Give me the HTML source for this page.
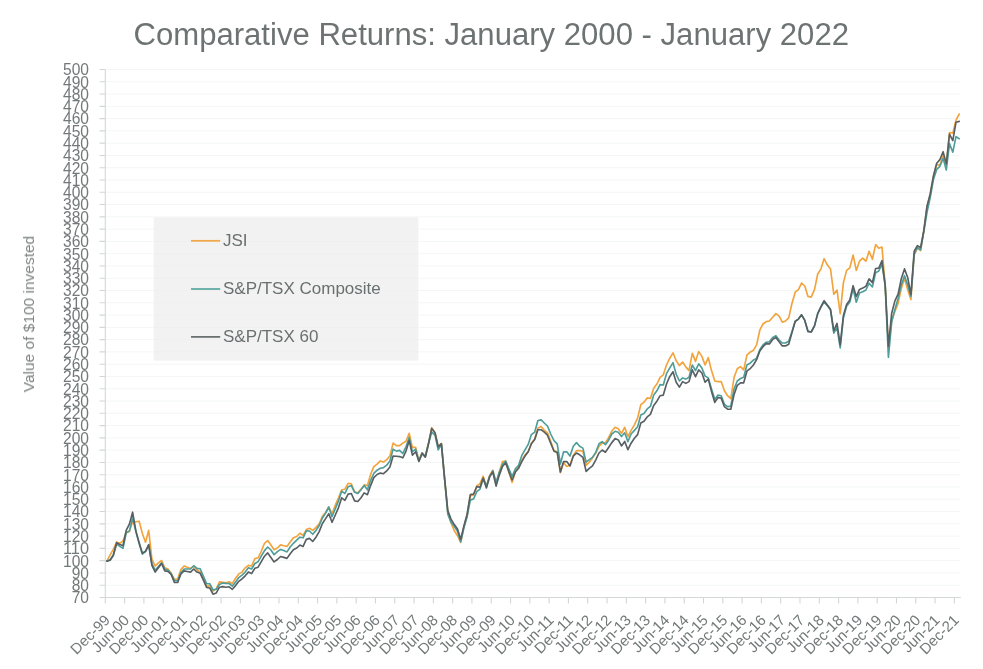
<!DOCTYPE html>
<html lang="en"><head><meta charset="utf-8"><title>Comparative Returns: January 2000 - January 2022</title>
<style>
html,body{margin:0;padding:0;background:#fff}
body{width:983px;height:669px;overflow:hidden}
svg{display:block}
text{font-family:"Liberation Sans",sans-serif}
.title{font-size:31px;fill:#6d7373}
.yl{font-size:15.8px;fill:#737979}
.xl{font-size:15px;fill:#737979;text-anchor:end}
.yt{font-size:13.8px;fill:#7d8383}
.lg{font-size:17px;fill:#6a7070}
.s{fill:none;stroke-width:1.65;stroke-linejoin:round;stroke-linecap:round}
</style></head><body>
<svg width="983" height="669" viewBox="0 0 983 669">
<rect width="983" height="669" fill="#fff"/>
<g opacity="0.999">
<text class="title" x="133.5" y="44.5" textLength="715.5" lengthAdjust="spacingAndGlyphs">Comparative Returns: January 2000 - January 2022</text>
<path d="M105.3,69.50H960.8M105.3,81.78H960.8M105.3,94.06H960.8M105.3,106.34H960.8M105.3,118.62H960.8M105.3,130.90H960.8M105.3,143.17H960.8M105.3,155.45H960.8M105.3,167.73H960.8M105.3,180.01H960.8M105.3,192.29H960.8M105.3,204.57H960.8M105.3,216.85H960.8M105.3,229.13H960.8M105.3,241.41H960.8M105.3,253.69H960.8M105.3,265.97H960.8M105.3,278.24H960.8M105.3,290.52H960.8M105.3,302.80H960.8M105.3,315.08H960.8M105.3,327.36H960.8M105.3,339.64H960.8M105.3,351.92H960.8M105.3,364.20H960.8M105.3,376.48H960.8M105.3,388.76H960.8M105.3,401.03H960.8M105.3,413.31H960.8M105.3,425.59H960.8M105.3,437.87H960.8M105.3,450.15H960.8M105.3,462.43H960.8M105.3,474.71H960.8M105.3,486.99H960.8M105.3,499.27H960.8M105.3,511.55H960.8M105.3,523.83H960.8M105.3,536.10H960.8M105.3,548.38H960.8M105.3,560.66H960.8M105.3,572.94H960.8M105.3,585.22H960.8" stroke="#f4f6f6" stroke-width="1" fill="none"/>
<rect x="153.7" y="217.3" width="264.6" height="143.3" fill="#ededed" fill-opacity="0.73"/>
<path d="M105.3,69.5V597.5M105.3,597.5H960.8M99.5,69.50H105.3M99.5,81.78H105.3M99.5,94.06H105.3M99.5,106.34H105.3M99.5,118.62H105.3M99.5,130.90H105.3M99.5,143.17H105.3M99.5,155.45H105.3M99.5,167.73H105.3M99.5,180.01H105.3M99.5,192.29H105.3M99.5,204.57H105.3M99.5,216.85H105.3M99.5,229.13H105.3M99.5,241.41H105.3M99.5,253.69H105.3M99.5,265.97H105.3M99.5,278.24H105.3M99.5,290.52H105.3M99.5,302.80H105.3M99.5,315.08H105.3M99.5,327.36H105.3M99.5,339.64H105.3M99.5,351.92H105.3M99.5,364.20H105.3M99.5,376.48H105.3M99.5,388.76H105.3M99.5,401.03H105.3M99.5,413.31H105.3M99.5,425.59H105.3M99.5,437.87H105.3M99.5,450.15H105.3M99.5,462.43H105.3M99.5,474.71H105.3M99.5,486.99H105.3M99.5,499.27H105.3M99.5,511.55H105.3M99.5,523.83H105.3M99.5,536.10H105.3M99.5,548.38H105.3M99.5,560.66H105.3M99.5,572.94H105.3M99.5,585.22H105.3M99.5,597.50H105.3M105.30,597.5V603.5M124.60,597.5V603.5M143.89,597.5V603.5M163.19,597.5V603.5M182.49,597.5V603.5M201.78,597.5V603.5M221.08,597.5V603.5M240.38,597.5V603.5M259.68,597.5V603.5M278.97,597.5V603.5M298.27,597.5V603.5M317.57,597.5V603.5M336.86,597.5V603.5M356.16,597.5V603.5M375.46,597.5V603.5M394.75,597.5V603.5M414.05,597.5V603.5M433.35,597.5V603.5M452.65,597.5V603.5M471.94,597.5V603.5M491.24,597.5V603.5M510.54,597.5V603.5M529.83,597.5V603.5M549.13,597.5V603.5M568.43,597.5V603.5M587.72,597.5V603.5M607.02,597.5V603.5M626.32,597.5V603.5M645.62,597.5V603.5M664.91,597.5V603.5M684.21,597.5V603.5M703.51,597.5V603.5M722.80,597.5V603.5M742.10,597.5V603.5M761.40,597.5V603.5M780.69,597.5V603.5M799.99,597.5V603.5M819.29,597.5V603.5M838.59,597.5V603.5M857.88,597.5V603.5M877.18,597.5V603.5M896.48,597.5V603.5M915.77,597.5V603.5M935.07,597.5V603.5M954.37,597.5V603.5" stroke="#d4d7d7" stroke-width="1.1" fill="none"/>
<text class="yl" x="63.0" y="75.3" textLength="26.0" lengthAdjust="spacingAndGlyphs">500</text>
<text class="yl" x="63.0" y="87.6" textLength="26.0" lengthAdjust="spacingAndGlyphs">490</text>
<text class="yl" x="63.0" y="99.9" textLength="26.0" lengthAdjust="spacingAndGlyphs">480</text>
<text class="yl" x="63.0" y="112.1" textLength="26.0" lengthAdjust="spacingAndGlyphs">470</text>
<text class="yl" x="63.0" y="124.4" textLength="26.0" lengthAdjust="spacingAndGlyphs">460</text>
<text class="yl" x="63.0" y="136.7" textLength="26.0" lengthAdjust="spacingAndGlyphs">450</text>
<text class="yl" x="63.0" y="149.0" textLength="26.0" lengthAdjust="spacingAndGlyphs">440</text>
<text class="yl" x="63.0" y="161.3" textLength="26.0" lengthAdjust="spacingAndGlyphs">430</text>
<text class="yl" x="63.0" y="173.5" textLength="26.0" lengthAdjust="spacingAndGlyphs">420</text>
<text class="yl" x="63.0" y="185.8" textLength="26.0" lengthAdjust="spacingAndGlyphs">410</text>
<text class="yl" x="63.0" y="198.1" textLength="26.0" lengthAdjust="spacingAndGlyphs">400</text>
<text class="yl" x="63.0" y="210.4" textLength="26.0" lengthAdjust="spacingAndGlyphs">390</text>
<text class="yl" x="63.0" y="222.6" textLength="26.0" lengthAdjust="spacingAndGlyphs">380</text>
<text class="yl" x="63.0" y="234.9" textLength="26.0" lengthAdjust="spacingAndGlyphs">370</text>
<text class="yl" x="63.0" y="247.2" textLength="26.0" lengthAdjust="spacingAndGlyphs">360</text>
<text class="yl" x="63.0" y="259.5" textLength="26.0" lengthAdjust="spacingAndGlyphs">350</text>
<text class="yl" x="63.0" y="271.8" textLength="26.0" lengthAdjust="spacingAndGlyphs">340</text>
<text class="yl" x="63.0" y="284.0" textLength="26.0" lengthAdjust="spacingAndGlyphs">330</text>
<text class="yl" x="63.0" y="296.3" textLength="26.0" lengthAdjust="spacingAndGlyphs">320</text>
<text class="yl" x="63.0" y="308.6" textLength="26.0" lengthAdjust="spacingAndGlyphs">310</text>
<text class="yl" x="63.0" y="320.9" textLength="26.0" lengthAdjust="spacingAndGlyphs">300</text>
<text class="yl" x="63.0" y="333.2" textLength="26.0" lengthAdjust="spacingAndGlyphs">290</text>
<text class="yl" x="63.0" y="345.4" textLength="26.0" lengthAdjust="spacingAndGlyphs">280</text>
<text class="yl" x="63.0" y="357.7" textLength="26.0" lengthAdjust="spacingAndGlyphs">270</text>
<text class="yl" x="63.0" y="370.0" textLength="26.0" lengthAdjust="spacingAndGlyphs">260</text>
<text class="yl" x="63.0" y="382.3" textLength="26.0" lengthAdjust="spacingAndGlyphs">250</text>
<text class="yl" x="63.0" y="394.6" textLength="26.0" lengthAdjust="spacingAndGlyphs">240</text>
<text class="yl" x="63.0" y="406.8" textLength="26.0" lengthAdjust="spacingAndGlyphs">230</text>
<text class="yl" x="63.0" y="419.1" textLength="26.0" lengthAdjust="spacingAndGlyphs">220</text>
<text class="yl" x="63.0" y="431.4" textLength="26.0" lengthAdjust="spacingAndGlyphs">210</text>
<text class="yl" x="63.0" y="443.7" textLength="26.0" lengthAdjust="spacingAndGlyphs">200</text>
<text class="yl" x="63.0" y="456.0" textLength="26.0" lengthAdjust="spacingAndGlyphs">190</text>
<text class="yl" x="63.0" y="468.2" textLength="26.0" lengthAdjust="spacingAndGlyphs">180</text>
<text class="yl" x="63.0" y="480.5" textLength="26.0" lengthAdjust="spacingAndGlyphs">170</text>
<text class="yl" x="63.0" y="492.8" textLength="26.0" lengthAdjust="spacingAndGlyphs">160</text>
<text class="yl" x="63.0" y="505.1" textLength="26.0" lengthAdjust="spacingAndGlyphs">150</text>
<text class="yl" x="63.0" y="517.3" textLength="26.0" lengthAdjust="spacingAndGlyphs">140</text>
<text class="yl" x="63.0" y="529.6" textLength="26.0" lengthAdjust="spacingAndGlyphs">130</text>
<text class="yl" x="63.0" y="541.9" textLength="26.0" lengthAdjust="spacingAndGlyphs">120</text>
<text class="yl" x="63.0" y="554.2" textLength="26.0" lengthAdjust="spacingAndGlyphs">110</text>
<text class="yl" x="63.0" y="566.5" textLength="26.0" lengthAdjust="spacingAndGlyphs">100</text>
<text class="yl" x="71.7" y="578.7" textLength="17.3" lengthAdjust="spacingAndGlyphs">90</text>
<text class="yl" x="71.7" y="591.0" textLength="17.3" lengthAdjust="spacingAndGlyphs">80</text>
<text class="yl" x="71.7" y="603.3" textLength="17.3" lengthAdjust="spacingAndGlyphs">70</text>
<text class="xl" transform="translate(110.8,621) rotate(-45)">Dec-99</text>
<text class="xl" transform="translate(130.1,621) rotate(-45)">Jun-00</text>
<text class="xl" transform="translate(149.4,621) rotate(-45)">Dec-00</text>
<text class="xl" transform="translate(168.7,621) rotate(-45)">Jun-01</text>
<text class="xl" transform="translate(188.0,621) rotate(-45)">Dec-01</text>
<text class="xl" transform="translate(207.3,621) rotate(-45)">Jun-02</text>
<text class="xl" transform="translate(226.6,621) rotate(-45)">Dec-02</text>
<text class="xl" transform="translate(245.9,621) rotate(-45)">Jun-03</text>
<text class="xl" transform="translate(265.2,621) rotate(-45)">Dec-03</text>
<text class="xl" transform="translate(284.5,621) rotate(-45)">Jun-04</text>
<text class="xl" transform="translate(303.8,621) rotate(-45)">Dec-04</text>
<text class="xl" transform="translate(323.1,621) rotate(-45)">Jun-05</text>
<text class="xl" transform="translate(342.4,621) rotate(-45)">Dec-05</text>
<text class="xl" transform="translate(361.7,621) rotate(-45)">Jun-06</text>
<text class="xl" transform="translate(381.0,621) rotate(-45)">Dec-06</text>
<text class="xl" transform="translate(400.3,621) rotate(-45)">Jun-07</text>
<text class="xl" transform="translate(419.6,621) rotate(-45)">Dec-07</text>
<text class="xl" transform="translate(438.8,621) rotate(-45)">Jun-08</text>
<text class="xl" transform="translate(458.1,621) rotate(-45)">Dec-08</text>
<text class="xl" transform="translate(477.4,621) rotate(-45)">Jun-09</text>
<text class="xl" transform="translate(496.7,621) rotate(-45)">Dec-09</text>
<text class="xl" transform="translate(516.0,621) rotate(-45)">Jun-10</text>
<text class="xl" transform="translate(535.3,621) rotate(-45)">Dec-10</text>
<text class="xl" transform="translate(554.6,621) rotate(-45)">Jun-11</text>
<text class="xl" transform="translate(573.9,621) rotate(-45)">Dec-11</text>
<text class="xl" transform="translate(593.2,621) rotate(-45)">Jun-12</text>
<text class="xl" transform="translate(612.5,621) rotate(-45)">Dec-12</text>
<text class="xl" transform="translate(631.8,621) rotate(-45)">Jun-13</text>
<text class="xl" transform="translate(651.1,621) rotate(-45)">Dec-13</text>
<text class="xl" transform="translate(670.4,621) rotate(-45)">Jun-14</text>
<text class="xl" transform="translate(689.7,621) rotate(-45)">Dec-14</text>
<text class="xl" transform="translate(709.0,621) rotate(-45)">Jun-15</text>
<text class="xl" transform="translate(728.3,621) rotate(-45)">Dec-15</text>
<text class="xl" transform="translate(747.6,621) rotate(-45)">Jun-16</text>
<text class="xl" transform="translate(766.9,621) rotate(-45)">Dec-16</text>
<text class="xl" transform="translate(786.2,621) rotate(-45)">Jun-17</text>
<text class="xl" transform="translate(805.5,621) rotate(-45)">Dec-17</text>
<text class="xl" transform="translate(824.8,621) rotate(-45)">Jun-18</text>
<text class="xl" transform="translate(844.1,621) rotate(-45)">Dec-18</text>
<text class="xl" transform="translate(863.4,621) rotate(-45)">Jun-19</text>
<text class="xl" transform="translate(882.7,621) rotate(-45)">Dec-19</text>
<text class="xl" transform="translate(902.0,621) rotate(-45)">Jun-20</text>
<text class="xl" transform="translate(921.3,621) rotate(-45)">Dec-20</text>
<text class="xl" transform="translate(940.6,621) rotate(-45)">Jun-21</text>
<text class="xl" transform="translate(959.9,621) rotate(-45)">Dec-21</text>
<text class="yt" transform="translate(34,392.3) rotate(-90)" textLength="156.5" lengthAdjust="spacingAndGlyphs">Value of $100 invested</text>
<path class="s" stroke="#f2a33c" d="M106.9,561.1 L110.1,554.9 L113.3,549.4 L116.6,542.1 L119.8,543.3 L123.0,540.8 L126.2,532.8 L129.4,531.5 L132.6,521.7 L135.9,521.7 L139.1,521.2 L142.3,533.2 L145.5,542.2 L148.7,530.3 L151.9,559.2 L155.2,566.0 L158.4,562.9 L161.6,560.5 L164.8,567.8 L168.0,569.0 L171.2,573.3 L174.4,579.5 L177.7,578.8 L180.9,569.6 L184.1,566.0 L187.3,567.2 L190.5,568.4 L193.7,566.6 L197.0,569.6 L200.2,572.1 L203.4,578.8 L206.6,586.2 L209.8,585.6 L213.0,591.1 L216.3,588.6 L219.5,581.9 L222.7,582.3 L225.9,582.8 L229.1,581.7 L232.3,583.7 L235.6,578.2 L238.8,573.9 L242.0,572.1 L245.2,567.8 L248.4,565.4 L251.6,566.0 L254.9,558.6 L258.1,557.8 L261.3,551.3 L264.5,543.3 L267.7,540.6 L270.9,545.1 L274.1,549.8 L277.4,548.0 L280.6,544.9 L283.8,545.7 L287.0,546.4 L290.2,542.1 L293.4,537.8 L296.7,536.5 L299.9,533.2 L303.1,535.3 L306.3,529.6 L309.5,528.3 L312.7,530.4 L316.0,527.4 L319.2,523.7 L322.4,516.2 L325.6,512.5 L328.8,507.0 L332.0,513.7 L335.3,505.2 L338.5,497.8 L341.7,489.8 L344.9,489.2 L348.1,483.3 L351.3,483.7 L354.6,491.7 L357.8,492.9 L361.0,489.2 L364.2,484.9 L367.4,485.6 L370.6,474.5 L373.8,466.6 L377.1,464.1 L380.3,460.9 L383.5,462.1 L386.7,459.6 L389.9,456.0 L393.1,443.1 L396.4,445.6 L399.6,445.6 L402.8,443.1 L406.0,441.3 L409.2,433.3 L412.4,447.4 L415.7,447.4 L418.9,460.9 L422.1,452.9 L425.3,456.6 L428.5,443.1 L431.7,427.8 L435.0,432.7 L438.2,446.8 L441.4,443.7 L444.6,478.6 L447.8,511.8 L451.0,522.8 L454.3,530.8 L457.5,535.7 L460.7,542.4 L463.9,527.1 L467.1,515.5 L470.3,495.8 L473.6,495.2 L476.8,486.0 L480.0,483.6 L483.2,476.2 L486.4,486.7 L489.6,475.7 L492.8,470.2 L496.1,483.6 L499.3,472.0 L502.5,461.6 L505.7,461.0 L508.9,472.0 L512.1,482.4 L515.4,471.4 L518.6,466.5 L521.8,460.4 L525.0,454.8 L528.2,451.8 L531.4,443.2 L534.7,438.9 L537.9,427.9 L541.1,426.6 L544.3,430.3 L547.5,432.8 L550.7,441.4 L554.0,450.6 L557.2,451.8 L560.4,472.6 L563.6,462.8 L566.8,466.5 L570.0,465.3 L573.3,455.4 L576.5,450.6 L579.7,450.6 L582.9,451.2 L586.1,465.3 L589.3,462.2 L592.5,457.9 L595.8,453.0 L599.0,446.3 L602.2,443.2 L605.4,442.6 L608.6,437.7 L611.8,431.0 L615.1,427.3 L618.3,428.8 L621.5,433.4 L624.7,427.3 L627.9,436.5 L631.1,430.4 L634.4,424.8 L637.6,418.1 L640.8,404.6 L644.0,402.2 L647.2,397.9 L650.4,398.5 L653.7,388.3 L656.9,384.0 L660.1,377.3 L663.3,374.8 L666.5,365.0 L669.7,358.3 L673.0,352.8 L676.2,360.7 L679.4,365.6 L682.6,362.0 L685.8,366.9 L689.0,370.6 L692.3,353.4 L695.5,361.4 L698.7,351.6 L701.9,356.4 L705.1,365.0 L708.3,357.7 L711.5,370.6 L714.8,381.0 L718.0,381.6 L721.2,381.6 L724.4,390.8 L727.6,395.7 L730.8,398.7 L734.1,377.3 L737.3,368.7 L740.5,366.6 L743.7,369.9 L746.9,355.2 L750.1,352.2 L753.4,350.3 L756.6,344.9 L759.8,330.2 L763.0,324.0 L766.2,321.6 L769.4,321.0 L772.7,317.3 L775.9,313.6 L779.1,316.1 L782.3,322.2 L785.5,321.0 L788.7,317.9 L792.0,303.2 L795.2,292.2 L798.4,289.7 L801.6,283.0 L804.8,286.0 L808.0,296.4 L811.2,297.1 L814.5,289.7 L817.7,274.0 L820.9,269.1 L824.1,258.7 L827.3,264.8 L830.5,268.9 L833.8,294.3 L837.0,290.0 L840.2,313.6 L843.4,282.6 L846.6,270.4 L849.8,267.9 L853.1,255.0 L856.3,270.4 L859.5,261.2 L862.7,258.1 L865.9,261.2 L869.1,251.3 L872.4,259.3 L875.6,244.6 L878.8,248.3 L882.0,247.1 L885.2,285.6 L888.4,347.5 L891.7,320.6 L894.9,311.4 L898.1,303.4 L901.3,288.6 L904.5,278.1 L907.7,289.8 L910.9,299.6 L914.2,254.8 L917.4,248.1 L920.6,250.6 L923.8,230.3 L927.0,206.8 L930.2,194.6 L933.5,176.2 L936.7,164.5 L939.9,165.1 L943.1,155.9 L946.3,164.5 L949.5,132.5 L952.8,133.3 L956.0,120.2 L959.2,114.0"/>
<path class="s" stroke="#4f9d9a" d="M106.9,561.1 L110.1,559.8 L113.3,554.9 L116.6,543.9 L119.8,546.4 L123.0,548.4 L126.2,532.8 L129.4,531.1 L132.6,518.0 L135.9,531.5 L139.1,543.5 L142.3,554.1 L145.5,551.6 L148.7,545.1 L151.9,563.5 L155.2,570.3 L158.4,566.6 L161.6,562.9 L164.8,569.0 L168.0,570.3 L171.2,573.9 L174.4,580.7 L177.7,580.7 L180.9,572.7 L184.1,569.0 L187.3,569.0 L190.5,569.0 L193.7,565.7 L197.0,568.4 L200.2,568.8 L203.4,576.4 L206.6,583.7 L209.8,583.7 L213.0,589.9 L216.3,589.3 L219.5,584.4 L222.7,583.1 L225.9,583.4 L229.1,583.5 L232.3,586.2 L235.6,581.9 L238.8,577.6 L242.0,575.2 L245.2,572.1 L248.4,567.8 L251.6,569.0 L254.9,563.5 L258.1,561.7 L261.3,556.2 L264.5,550.6 L267.7,547.0 L270.9,550.0 L274.1,554.7 L277.4,551.6 L280.6,549.4 L283.8,550.6 L287.0,551.9 L290.2,547.0 L293.4,543.3 L296.7,540.2 L299.9,537.2 L303.1,537.8 L306.3,530.8 L309.5,531.0 L312.7,534.3 L316.0,530.4 L319.2,525.5 L322.4,518.0 L325.6,513.1 L328.8,507.0 L332.0,516.8 L335.3,508.8 L338.5,500.9 L341.7,491.1 L344.9,493.5 L348.1,486.8 L351.3,485.6 L354.6,492.3 L357.8,493.5 L361.0,489.8 L364.2,485.6 L367.4,489.8 L370.6,480.6 L373.8,473.3 L377.1,470.2 L380.3,468.2 L383.5,467.6 L386.7,465.2 L389.9,460.9 L393.1,449.2 L396.4,451.1 L399.6,450.4 L402.8,453.5 L406.0,446.8 L409.2,437.6 L412.4,451.7 L415.7,449.2 L418.9,460.9 L422.1,452.9 L425.3,456.6 L428.5,443.7 L431.7,432.1 L435.0,435.1 L438.2,449.8 L441.4,444.3 L444.6,478.6 L447.8,514.2 L451.0,522.2 L454.3,526.5 L457.5,531.4 L460.7,541.8 L463.9,527.7 L467.1,516.7 L470.3,500.1 L473.6,498.9 L476.8,491.6 L480.0,489.1 L483.2,478.7 L486.4,486.1 L489.6,476.3 L492.8,470.8 L496.1,482.4 L499.3,472.0 L502.5,464.6 L505.7,461.0 L508.9,468.9 L512.1,476.3 L515.4,468.9 L518.6,465.3 L521.8,455.4 L525.0,449.9 L528.2,444.4 L531.4,434.6 L534.7,432.2 L537.9,420.5 L541.1,419.9 L544.3,423.0 L547.5,426.0 L550.7,434.0 L554.0,440.7 L557.2,443.8 L560.4,464.0 L563.6,451.8 L566.8,451.8 L570.0,456.1 L573.3,446.3 L576.5,442.6 L579.7,446.3 L582.9,448.1 L586.1,462.2 L589.3,459.7 L592.5,457.3 L595.8,452.4 L599.0,443.8 L602.2,441.6 L605.4,444.7 L608.6,440.2 L611.8,434.0 L615.1,431.3 L618.3,432.2 L621.5,436.5 L624.7,432.8 L627.9,441.6 L631.1,434.0 L634.4,430.4 L637.6,426.7 L640.8,415.0 L644.0,413.4 L647.2,408.9 L650.4,406.4 L653.7,395.1 L656.9,390.8 L660.1,384.6 L663.3,385.0 L666.5,373.6 L669.7,368.1 L673.0,362.6 L676.2,374.2 L679.4,381.0 L682.6,377.9 L685.8,379.1 L689.0,377.3 L692.3,365.0 L695.5,370.6 L698.7,363.8 L701.9,368.1 L705.1,376.1 L708.3,377.9 L711.5,388.9 L714.8,399.4 L718.0,395.1 L721.2,395.7 L724.4,404.3 L727.6,406.7 L730.8,406.1 L734.1,388.9 L737.3,381.0 L740.5,378.5 L743.7,377.3 L746.9,365.0 L750.1,363.2 L753.4,360.1 L756.6,358.4 L759.8,349.8 L763.0,344.9 L766.2,342.2 L769.4,341.8 L772.7,337.5 L775.9,335.7 L779.1,340.0 L782.3,343.0 L785.5,343.0 L788.7,341.2 L792.0,331.4 L795.2,321.0 L798.4,319.1 L801.6,314.8 L804.8,320.4 L808.0,331.4 L811.2,332.0 L814.5,325.9 L817.7,313.6 L820.9,307.1 L824.1,302.0 L827.3,305.6 L830.5,309.9 L833.8,333.2 L837.0,327.7 L840.2,347.9 L843.4,317.9 L846.6,306.3 L849.8,302.0 L853.1,288.7 L856.3,302.2 L859.5,293.0 L862.7,291.8 L865.9,290.0 L869.1,283.2 L872.4,286.9 L875.6,272.8 L878.8,271.0 L882.0,264.2 L885.2,286.2 L888.4,357.3 L891.7,321.8 L894.9,309.5 L898.1,298.5 L901.3,284.9 L904.5,275.7 L907.7,284.9 L910.9,296.5 L914.2,254.2 L917.4,247.5 L920.6,249.9 L923.8,231.6 L927.0,212.3 L930.2,197.6 L933.5,179.2 L936.7,169.4 L939.9,166.3 L943.1,158.4 L946.3,170.0 L949.5,143.6 L952.8,152.2 L956.0,136.6 L959.2,138.7"/>
<path class="s" stroke="#585f63" d="M106.9,561.1 L110.1,560.2 L113.3,555.5 L116.6,542.7 L119.8,544.5 L123.0,545.7 L126.2,530.3 L129.4,524.1 L132.6,512.2 L135.9,531.1 L139.1,542.6 L142.3,553.1 L145.5,551.3 L148.7,544.5 L151.9,565.4 L155.2,572.1 L158.4,567.8 L161.6,563.5 L164.8,570.9 L168.0,571.5 L171.2,574.5 L174.4,582.5 L177.7,582.5 L180.9,573.9 L184.1,570.9 L187.3,571.5 L190.5,572.1 L193.7,569.0 L197.0,572.1 L200.2,573.3 L203.4,580.1 L206.6,587.4 L209.8,588.0 L213.0,594.2 L216.3,592.9 L219.5,587.2 L222.7,586.6 L225.9,587.2 L229.1,586.8 L232.3,589.3 L235.6,585.6 L238.8,581.3 L242.0,578.8 L245.2,575.8 L248.4,572.1 L251.6,573.6 L254.9,568.2 L258.1,567.2 L261.3,561.7 L264.5,556.2 L267.7,552.9 L270.9,557.4 L274.1,561.9 L277.4,559.5 L280.6,556.5 L283.8,557.4 L287.0,558.4 L290.2,553.7 L293.4,549.7 L296.7,548.0 L299.9,545.1 L303.1,546.4 L306.3,539.4 L309.5,538.4 L312.7,541.5 L316.0,537.2 L319.2,531.6 L322.4,523.5 L325.6,518.6 L328.8,513.7 L332.0,522.3 L335.3,515.0 L338.5,507.6 L341.7,497.8 L344.9,500.3 L348.1,494.1 L351.3,493.5 L354.6,500.9 L357.8,501.5 L361.0,497.8 L364.2,492.9 L367.4,494.7 L370.6,485.6 L373.8,477.6 L377.1,474.5 L380.3,473.1 L383.5,473.7 L386.7,470.9 L389.9,467.0 L393.1,456.0 L396.4,456.3 L399.6,456.6 L402.8,457.8 L406.0,451.1 L409.2,440.6 L412.4,455.1 L415.7,451.7 L418.9,461.5 L422.1,453.5 L425.3,457.2 L428.5,443.7 L431.7,428.4 L435.0,432.7 L438.2,446.8 L441.4,443.7 L444.6,478.6 L447.8,510.6 L451.0,519.1 L454.3,524.6 L457.5,528.9 L460.7,539.4 L463.9,525.9 L467.1,514.2 L470.3,494.6 L473.6,494.0 L476.8,486.6 L480.0,487.3 L483.2,478.1 L486.4,487.9 L489.6,476.9 L492.8,472.0 L496.1,486.1 L499.3,475.1 L502.5,466.5 L505.7,462.8 L508.9,472.0 L512.1,480.0 L515.4,472.0 L518.6,468.3 L521.8,461.6 L525.0,456.1 L528.2,451.8 L531.4,443.8 L534.7,439.5 L537.9,429.7 L541.1,429.7 L544.3,432.2 L547.5,435.2 L550.7,443.2 L554.0,451.2 L557.2,452.4 L560.4,472.0 L563.6,461.6 L566.8,461.6 L570.0,465.9 L573.3,456.1 L576.5,453.0 L579.7,454.8 L582.9,457.3 L586.1,471.4 L589.3,468.3 L592.5,465.9 L595.8,459.8 L599.0,453.0 L602.2,450.0 L605.4,452.2 L608.6,447.5 L611.8,442.6 L615.1,438.6 L618.3,439.9 L621.5,445.9 L624.7,441.4 L627.9,449.7 L631.1,443.2 L634.4,438.3 L637.6,434.6 L640.8,423.0 L644.0,421.2 L647.2,416.9 L650.4,414.4 L653.7,405.5 L656.9,401.2 L660.1,395.7 L663.3,395.1 L666.5,384.0 L669.7,376.7 L673.0,371.8 L676.2,382.2 L679.4,387.1 L682.6,381.6 L685.8,383.4 L689.0,381.6 L692.3,369.9 L695.5,376.7 L698.7,369.9 L701.9,373.0 L705.1,382.2 L708.3,379.1 L711.5,391.4 L714.8,402.4 L718.0,397.5 L721.2,398.1 L724.4,406.7 L727.6,409.2 L730.8,409.2 L734.1,394.4 L737.3,385.3 L740.5,382.8 L743.7,382.8 L746.9,371.2 L750.1,368.7 L753.4,365.0 L756.6,359.6 L759.8,351.0 L763.0,346.7 L766.2,343.6 L769.4,343.9 L772.7,339.4 L775.9,337.5 L779.1,341.8 L782.3,345.9 L785.5,345.9 L788.7,344.3 L792.0,332.6 L795.2,321.6 L798.4,319.1 L801.6,314.8 L804.8,320.4 L808.0,331.4 L811.2,332.0 L814.5,325.9 L817.7,313.6 L820.9,306.9 L824.1,300.7 L827.3,305.0 L830.5,309.3 L833.8,330.8 L837.0,323.4 L840.2,344.9 L843.4,315.4 L846.6,304.4 L849.8,300.1 L853.1,285.7 L856.3,296.7 L859.5,289.4 L862.7,288.1 L865.9,286.3 L869.1,278.9 L872.4,282.6 L875.6,268.5 L878.8,268.1 L882.0,260.6 L885.2,285.0 L888.4,346.3 L891.7,313.2 L894.9,300.9 L898.1,294.2 L901.3,278.7 L904.5,268.9 L907.7,277.5 L910.9,294.7 L914.2,251.2 L917.4,245.6 L920.6,247.5 L923.8,230.9 L927.0,206.2 L930.2,193.9 L933.5,175.6 L936.7,163.3 L939.9,159.6 L943.1,151.7 L946.3,163.9 L949.5,134.1 L952.8,140.7 L956.0,122.2 L959.2,121.4"/>
<path d="M191,240.8H220.2" stroke="#f0a848" stroke-width="1.75" fill="none"/>
<text class="lg" x="223.0" y="246.2">JSI</text>
<path d="M191,289H220.2" stroke="#5ba8a0" stroke-width="1.75" fill="none"/>
<text class="lg" x="223.0" y="294.4">S&amp;P/TSX Composite</text>
<path d="M191,336.9H220.2" stroke="#6a7070" stroke-width="1.75" fill="none"/>
<text class="lg" x="223.0" y="342.3">S&amp;P/TSX 60</text>
</g></svg></body></html>
